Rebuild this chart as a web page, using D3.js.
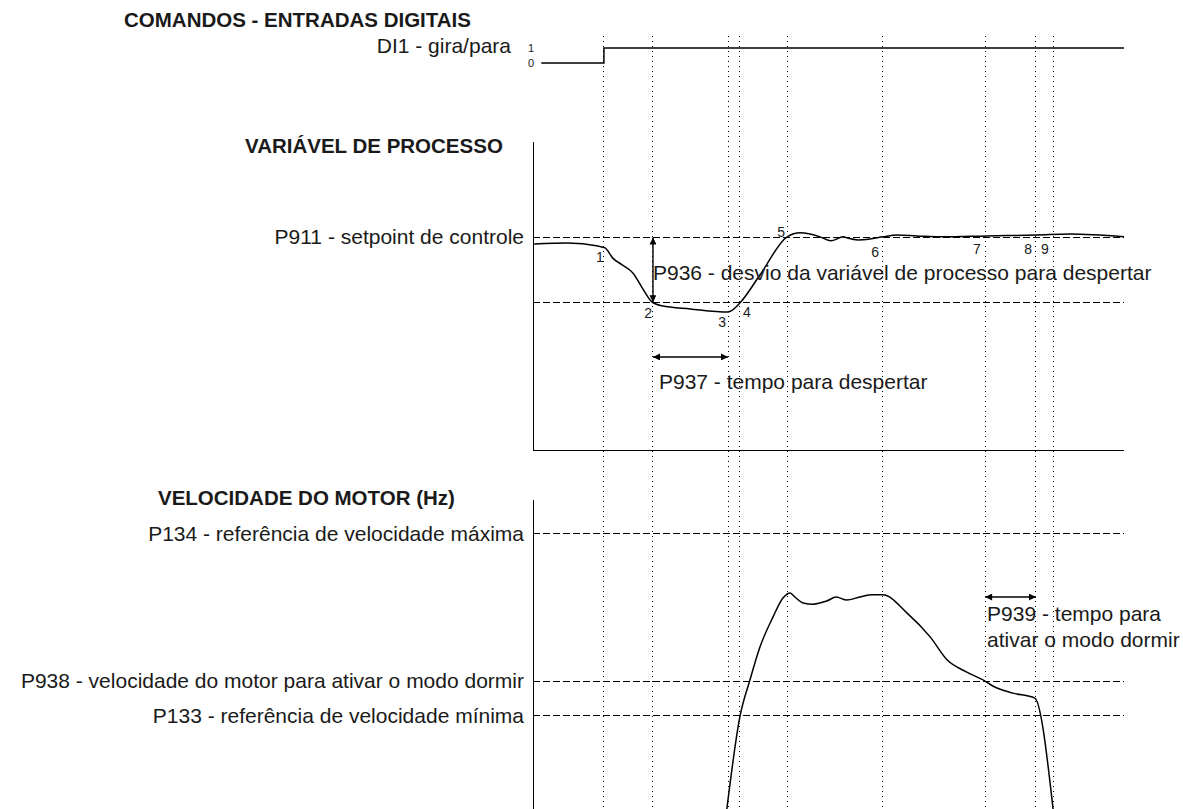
<!DOCTYPE html>
<html>
<head>
<meta charset="utf-8">
<title>Modo dormir / despertar</title>
<script src="https://d3js.org/d3.v7.min.js"></script>
<style>
body { margin: 0; background: #fff; }
svg text { font-family: "Liberation Sans", Arial, Helvetica, sans-serif; fill: #1a1a1a; }
.crisp { shape-rendering: crispEdges; }
</style>
</head>
<body>
<svg id="svgMain" width="1183" height="809"></svg>
<script>
// time runs 0..100 along all three panels
var eventTimes = [12, 20.3, 33, 35, 43.1, 59.2, 76.5, 85.1, 88];

// DI1 - gira/para
var diTimes  = [1.4, 12, 12, 100];
var diLevels = [0, 0, 1, 1];

// variavel de processo
var pvTimes  = [0.2, 5.9, 11.0, 12.2, 13.5, 15.1, 16.9, 18.4, 20.1, 21.8, 26.6, 33.0, 33.8, 35.0, 38.4, 43.0, 45.2, 48.6, 50.4, 52.5, 53.2, 55.0, 57.0, 59.2, 61.6, 65.0, 69.4, 76.8, 85.3, 90.9, 100];
var pvValues = [66.9, 67.2, 66.2, 65.6, 62.3, 60.1, 57.5, 52.9, 48.1, 46.8, 45.8, 44.8, 45.5, 47.7, 56.8, 69.2, 70.5, 69.2, 67.9, 69.2, 68.8, 68.2, 68.5, 69.2, 69.8, 69.5, 69.2, 69.5, 69.8, 70.1, 69.2];
var setpoint = 69;
var wakeLevel = 48;
var wakeDelay = 30.2;   // height of the P937 arrow

// numbered instants
var tagNames  = ['1', '2', '3', '4', '5', '6', '7', '8', '9'];
var tagTimes  = [11.3, 19.5, 32.0, 36.2, 42.0, 57.9, 75.1, 83.8, 86.6];
var tagValues = [62.7, 44.5, 41.6, 44.8, 70.8, 64.3, 65.3, 65.3, 65.3];

// velocidade do motor
var spTimes  = [32.8, 35.0, 36.7, 38.4, 40.6, 42.3, 43.5, 44.3, 45.7, 47.4, 49.7, 51.3, 53.1, 55.3, 57.5, 59.2, 63.3, 67.2, 70.1, 73.4, 76.5, 77.8, 81.2, 84.9, 88.0];
var spValues = [0, 29.8, 41.7, 52.4, 62.1, 68.3, 69.9, 68.6, 66.7, 66.3, 67.3, 68.6, 67.6, 68.6, 69.3, 69.3, 63.4, 55.7, 48.2, 44.3, 41.4, 39.8, 37.5, 35.9, 0];
var spRefNames  = ['P134 - referência de velocidade máxima', 'P938 - velocidade do motor para ativar o modo dormir', 'P133 - referência de velocidade mínima'];
var spRefValues = [89, 41.4, 30.1];
var sleepArrow = 68.6;

var svg = d3.select('#svgMain');

var x = d3.scaleLinear().domain([0, 100]).range([533, 1124]);
var yDI = d3.scaleLinear().domain([0, 1]).range([63, 48]);
var yPV = d3.scaleLinear().domain([0, 100]).range([450, 142]);
var ySP = d3.scaleLinear().domain([0, 100]).range([809, 500]);

// arrow heads
var defs = svg.append('defs');
defs.append('marker')
    .attr('id', 'head')
    .attr('viewBox', '0 0 10 10')
    .attr('refX', 10).attr('refY', 5)
    .attr('markerWidth', 9).attr('markerHeight', 7)
    .attr('markerUnits', 'userSpaceOnUse')
    .attr('orient', 'auto-start-reverse')
  .append('path')
    .attr('d', 'M0,0 L10,5 L0,10 Z')
    .attr('fill', '#000');

// dotted markers through every panel
svg.append('g').selectAll('line')
    .data(eventTimes)
    .enter().append('line')
      .attr('class', 'crisp')
      .attr('x1', d => x(d)).attr('x2', d => x(d))
      .attr('y1', 36).attr('y2', 809)
      .attr('stroke', '#000')
      .attr('stroke-width', 1)
      .attr('stroke-dasharray', '1,4');

// titles
function title(txt, px, py) {
  svg.append('text').attr('x', px).attr('y', py)
    .attr('font-size', 20.5).attr('font-weight', 'bold')
    .text(txt);
}
title('COMANDOS - ENTRADAS DIGITAIS', 124, 27);
title('VARIÁVEL DE PROCESSO', 245, 153);
title('VELOCIDADE DO MOTOR (Hz)', 158, 505);

function label(txt, px, py, anchor) {
  return svg.append('text').attr('x', px).attr('y', py)
    .attr('font-size', 21)
    .attr('text-anchor', anchor || 'start')
    .text(txt);
}

// ---- DI1
label('DI1 - gira/para', 511, 53, 'end');
svg.append('text').attr('x', 531).attr('y', yDI(1) + 4).attr('font-size', 11).attr('text-anchor', 'middle').text('1');
svg.append('text').attr('x', 531).attr('y', yDI(0) + 4).attr('font-size', 11).attr('text-anchor', 'middle').text('0');
svg.append('path')
    .datum(d3.range(diTimes.length))
    .attr('d', d3.line().x(i => x(diTimes[i])).y(i => yDI(diLevels[i])))
    .attr('fill', 'none').attr('stroke', '#000').attr('stroke-width', 1.5);

// ---- process variable
var gPV = svg.append('g');
gPV.append('path')
    .attr('class', 'crisp')
    .attr('d', d3.line()([[x(0), yPV(100)], [x(0), yPV(0)], [x(100), yPV(0)]]))
    .attr('fill', 'none').attr('stroke', '#000').attr('stroke-width', 1);
gPV.selectAll('line.ref')
    .data([setpoint, wakeLevel])
    .enter().append('line')
      .attr('class', 'ref crisp')
      .attr('x1', x(0)).attr('x2', x(100))
      .attr('y1', d => yPV(d)).attr('y2', d => yPV(d))
      .attr('stroke', '#000').attr('stroke-width', 1)
      .attr('stroke-dasharray', '7,3');
label('P911 - setpoint de controle', 524, yPV(setpoint) + 7, 'end');

gPV.append('path')
    .datum(d3.range(pvTimes.length))
    .attr('d', d3.line().curve(d3.curveMonotoneX).x(i => x(pvTimes[i])).y(i => yPV(pvValues[i])))
    .attr('fill', 'none').attr('stroke', '#000').attr('stroke-width', 1.5);

// P936 arrow
gPV.append('line')
    .attr('x1', x(eventTimes[1])).attr('x2', x(eventTimes[1]))
    .attr('y1', yPV(setpoint)).attr('y2', yPV(wakeLevel))
    .attr('stroke', '#000').attr('stroke-width', 1.4)
    .attr('marker-start', 'url(#head)').attr('marker-end', 'url(#head)');
label('P936 - desvio da variável de processo para despertar', x(eventTimes[1]), 280);

// P937 arrow
gPV.append('line')
    .attr('x1', x(eventTimes[1])).attr('x2', x(eventTimes[2]))
    .attr('y1', yPV(wakeDelay)).attr('y2', yPV(wakeDelay))
    .attr('stroke', '#000').attr('stroke-width', 1.4)
    .attr('marker-start', 'url(#head)').attr('marker-end', 'url(#head)');
label('P937 - tempo para despertar', x(eventTimes[1]) + 6, 389);

gPV.selectAll('text.tag')
    .data(tagNames)
    .enter().append('text')
      .attr('class', 'tag')
      .attr('x', (d, i) => x(tagTimes[i]))
      .attr('y', (d, i) => yPV(tagValues[i]))
      .attr('dy', '0.35em')
      .attr('text-anchor', 'middle')
      .attr('font-size', 14)
      .text(d => d);

// ---- motor speed
var gSP = svg.append('g');
gSP.append('line')
    .attr('class', 'crisp')
    .attr('x1', x(0)).attr('x2', x(0))
    .attr('y1', ySP(100)).attr('y2', ySP(0))
    .attr('stroke', '#000').attr('stroke-width', 1);
gSP.selectAll('line.ref')
    .data(spRefValues)
    .enter().append('line')
      .attr('class', 'ref crisp')
      .attr('x1', x(0)).attr('x2', x(100))
      .attr('y1', d => ySP(d)).attr('y2', d => ySP(d))
      .attr('stroke', '#000').attr('stroke-width', 1)
      .attr('stroke-dasharray', '7,3');
gSP.selectAll('text.ref')
    .data(spRefNames)
    .enter().append('text')
      .attr('class', 'ref')
      .attr('x', 524)
      .attr('y', (d, i) => ySP(spRefValues[i]) + 7)
      .attr('text-anchor', 'end')
      .attr('font-size', 21)
      .text(d => d);

gSP.append('path')
    .datum(d3.range(spTimes.length))
    .attr('d', d3.line().curve(d3.curveMonotoneX).x(i => x(spTimes[i])).y(i => ySP(spValues[i])))
    .attr('fill', 'none').attr('stroke', '#000').attr('stroke-width', 1.5);

// P939 arrow
gSP.append('line')
    .attr('x1', x(eventTimes[6])).attr('x2', x(eventTimes[7]))
    .attr('y1', ySP(sleepArrow)).attr('y2', ySP(sleepArrow))
    .attr('stroke', '#000').attr('stroke-width', 1.4)
    .attr('marker-start', 'url(#head)').attr('marker-end', 'url(#head)');
label('P939 - tempo para', x(eventTimes[6]) + 2, 621);
label('ativar o modo dormir', x(eventTimes[6]) + 2, 647);
</script>
</body>
</html>
